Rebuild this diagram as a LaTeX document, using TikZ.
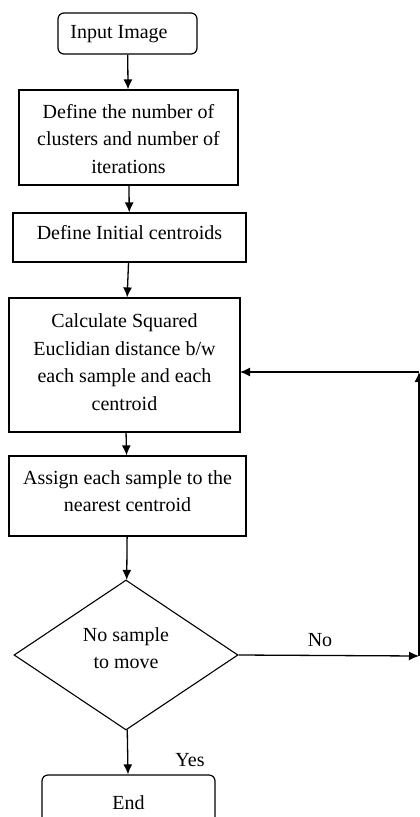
\documentclass[tikz,border=0pt]{standalone}
\usepackage{fontspec}
\setmainfont{Liberation Serif}
\usetikzlibrary{shapes.geometric,arrows.meta}
\begin{document}
\begin{tikzpicture}[x=1pt,y=-1pt,
  every node/.style={font=\fontsize{20}{27.5}\selectfont, text=black},
  procbox/.style={draw, line width=1.2pt, rectangle, align=center, inner sep=0pt},
  termbox/.style={draw, line width=1.2pt, rectangle, rounded corners=6pt, align=center, inner sep=0pt},
  decbox/.style={draw, line width=1.1pt, diamond, aspect=1.49, inner sep=0pt, align=center},
  conn/.style={line width=1.3pt, -{Latex[length=10pt,width=9pt]}},
  lbl/.style={inner sep=0pt, align=center}
]
\useasboundingbox (0,0) rectangle (420,817);
\node[termbox, minimum width=139pt, minimum height=41pt] (inp) at (127.5,33.5) {};
\node[lbl] (inpT) at (119,34) {Input Image};
\node[procbox, minimum width=219pt, minimum height=95pt] (def) at (128.5,137.5) {};
\node[lbl] (defT) at (128.5,139) {Define the number of\\clusters and number of\\iterations};
\node[procbox, minimum width=233pt, minimum height=49pt] (init) at (129.5,237.5) {};
\node[lbl] (initT) at (129.5,233) {Define Initial centroids};
\node[procbox, minimum width=231pt, minimum height=134pt] (calc) at (124.5,365) {};
\node[lbl] (calcT) at (124.5,362) {Calculate Squared\\Euclidian distance b/w\\each sample and each\\centroid};
\node[procbox, minimum width=237pt, minimum height=80pt] (asg) at (127.5,496) {};
\node[lbl] (asgT) at (127.5,491) {Assign each sample to the\\nearest centroid};
\node[decbox, minimum width=224pt, minimum height=150pt] (dec) at (126,655) {};
\node[lbl] (decT) at (126,648) {No sample\\to move};
\node[termbox, minimum width=173pt, minimum height=56pt] (end) at (128.5,803) {End};
\node[lbl] (no) at (320,640) {No};
\node[lbl] (yes) at (190,760) {Yes};
\coordinate (c1) at (419,656);
\coordinate (c2) at (419,372);
\coordinate (c3) at (240,372);
\draw[conn] (inp) -- (def);
\draw[conn] (def) -- (init);
\draw[conn] (init) -- (calc);
\draw[conn] (calc) -- (asg);
\draw[conn] (asg) -- (dec);
\draw[conn] (dec) -- (end);
\draw[conn] (dec.east) -- (c1);
\draw[conn] (c1) -- (c2);
\draw[conn] (c2) -- (c3);
\end{tikzpicture}
\end{document}
